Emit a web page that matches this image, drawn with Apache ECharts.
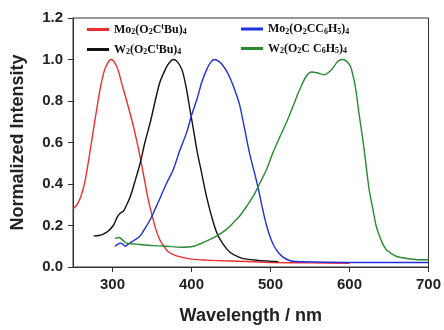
<!DOCTYPE html>
<html>
<head>
<meta charset="utf-8">
<script src="https://cdn.jsdelivr.net/npm/echarts@6/dist/echarts.min.js"></script>
<style>
  html, body { margin: 0; padding: 0; background: #fff; }
  #chart { width: 444px; height: 330px; }
</style>
</head>
<body>
<div id="chart"></div>
<script>
// 归一化发射光谱 [波长 nm, 强度]
const moTBu = [
  [250, 0.28], [255, 0.30], [260, 0.34], [265, 0.41], [270, 0.52], [275, 0.64],
  [280, 0.76], [285, 0.87], [290, 0.95], [295, 0.99], [298, 1.0], [302, 0.99],
  [307, 0.95], [312, 0.88], [318, 0.80], [325, 0.70], [330, 0.62], [335, 0.53],
  [340, 0.43], [345, 0.33], [350, 0.25], [355, 0.18], [360, 0.13], [365, 0.10],
  [370, 0.075], [380, 0.055], [390, 0.045], [400, 0.038], [420, 0.033], [440, 0.03],
  [460, 0.028], [480, 0.025], [500, 0.022], [550, 0.02], [600, 0.018]
]
const wTBu = [
  [276, 0.15], [283, 0.152], [289, 0.16], [295, 0.175], [301, 0.20], [306, 0.24],
  [310, 0.26], [314, 0.27], [318, 0.30], [323, 0.345], [329, 0.42], [335, 0.50],
  [341, 0.60], [348, 0.70], [354, 0.80], [360, 0.89], [366, 0.945], [371, 0.98],
  [377, 1.0], [382, 0.99], [388, 0.95], [393, 0.87], [398, 0.76], [403, 0.65],
  [407, 0.56], [413, 0.45], [419, 0.34], [425, 0.25], [432, 0.165], [440, 0.11],
  [449, 0.07], [460, 0.048], [470, 0.038], [485, 0.032], [500, 0.028], [510, 0.026]
]
const moC6H5 = [
  [303, 0.10], [307, 0.11], [310, 0.115], [313, 0.11], [316, 0.10], [319, 0.108],
  [322, 0.115], [328, 0.13], [335, 0.15], [341, 0.185], [348, 0.23], [354, 0.28],
  [360, 0.33], [368, 0.40], [377, 0.47], [385, 0.56], [394, 0.65], [400, 0.73],
  [407, 0.81], [413, 0.89], [419, 0.95], [424, 0.985], [429, 1.0], [435, 0.99],
  [440, 0.97], [445, 0.94], [450, 0.90], [456, 0.84], [461, 0.78], [467, 0.67],
  [474, 0.54], [480, 0.45], [485, 0.37], [490, 0.28], [495, 0.20], [501, 0.13],
  [507, 0.085], [515, 0.05], [525, 0.03], [540, 0.025], [600, 0.022], [650, 0.022],
  [700, 0.022]
]
const wC6H5 = [
  [303, 0.138], [308, 0.142], [314, 0.126], [318, 0.115], [331, 0.11], [345, 0.105],
  [360, 0.102], [375, 0.098], [390, 0.095], [403, 0.10], [415, 0.118], [430, 0.145],
  [444, 0.18], [452, 0.21], [461, 0.246], [470, 0.294], [478, 0.34], [486, 0.40],
  [495, 0.47], [503, 0.55], [511, 0.62], [520, 0.695], [528, 0.77], [537, 0.855],
  [545, 0.918], [552, 0.94], [560, 0.935], [568, 0.926], [577, 0.95], [585, 0.99],
  [591, 1.0], [600, 0.975], [604, 0.93], [608, 0.855], [612, 0.74], [617, 0.61],
  [621, 0.49], [625, 0.37], [630, 0.27], [634, 0.195], [640, 0.13], [646, 0.086],
  [655, 0.06], [663, 0.047], [675, 0.04], [688, 0.035], [700, 0.035]
]
const xTicks = [300, 400, 500, 600, 700]
const seriesNames = ['Mo2(O2CtBu)4', 'W2(O2CtBu)4', 'Mo2(O2CC6H5)4', 'W2(O2CC6H5)4']
const colors = ['#ee2e2e', '#111111', '#1f2fe0', '#2a8a34']

// 图例文字：下标/上标
const richNames = {
  'Mo2(O2CtBu)4': '{t|Mo}{s|2}{t|(O}{s|2}{t|C}{p|t}{t|Bu)}{s|4}',
  'W2(O2CtBu)4': '{t|W}{s|2}{t|(O}{s|2}{t|C}{p|t}{t|Bu)}{s|4}',
  'Mo2(O2CC6H5)4': '{t|Mo}{s|2}{t|(O}{s|2}{t|CC}{s|6}{t|H}{s|5}{t|)}{s|4}',
  'W2(O2CC6H5)4': '{t|W}{s|2}{t|(O}{s|2}{t|C C}{s|6}{t|H}{s|5}{t|)}{s|4}'
}
const serif = { fontFamily: 'Liberation Serif', fontWeight: 'bold', color: '#111', lineHeight: 13 }
const legendText = {
  rich: {
    t: Object.assign({ fontSize: 12, verticalAlign: 'middle' }, serif),
    s: Object.assign({ fontSize: 8, verticalAlign: 'bottom' }, serif),
    p: Object.assign({ fontSize: 8, verticalAlign: 'top' }, serif)
  }
}
const legendBase = {
  orient: 'vertical',
  top: 18,
  itemWidth: 22,
  itemHeight: 3,
  itemGap: 7,
  icon: 'rect',
  formatter: name => richNames[name],
  textStyle: legendText
}
const axisFont = { fontFamily: 'Liberation Sans', fontWeight: 'bold', fontSize: 15, color: '#222' }
const nameFont = { fontFamily: 'Liberation Sans', fontWeight: 'bold', fontSize: 18, color: '#222' }

const myChart = echarts.init(document.getElementById('chart'))
const option = {
  animation: false,
  color: colors,
  grid: {
    left: 73, right: 14, top: 18, bottom: 62,
    show: true, borderColor: '#333', borderWidth: 1
  },
  legend: [
    Object.assign({ left: 82, data: [seriesNames[0], seriesNames[1]] }, legendBase),
    Object.assign({ left: 236, data: [seriesNames[2], seriesNames[3]] }, legendBase)
  ],
  xAxis: {
    type: 'value',
    min: 250,
    max: 700,
    name: 'Wavelength / nm',
    nameLocation: 'middle',
    nameGap: 40,
    nameTextStyle: nameFont,
    axisLine: { lineStyle: { color: '#333', width: 1 } },
    axisTick: { show: true, length: 5, lineStyle: { color: '#333' }, customValues: xTicks },
    axisLabel: Object.assign({ margin: 10, customValues: xTicks }, axisFont),
    splitLine: { show: false }
  },
  yAxis: {
    type: 'value',
    min: 0,
    max: 1.2,
    interval: 0.2,
    name: 'Normalized Intensity',
    nameLocation: 'middle',
    nameGap: 46,
    nameTextStyle: nameFont,
    axisLine: { show: true, lineStyle: { color: '#333', width: 1 } },
    axisTick: { show: true, length: 5, lineStyle: { color: '#333' } },
    axisLabel: Object.assign({ margin: 10, formatter: v => v.toFixed(1) }, axisFont),
    splitLine: { show: false }
  },
  series: [moTBu, wTBu, moC6H5, wC6H5].map((d, i) => ({
    name: seriesNames[i],
    type: 'line',
    data: d,
    smooth: 0.3,
    showSymbol: false,
    lineStyle: { width: 1.4 }
  }))
}
myChart.setOption(option)
</script>
</body>
</html>
